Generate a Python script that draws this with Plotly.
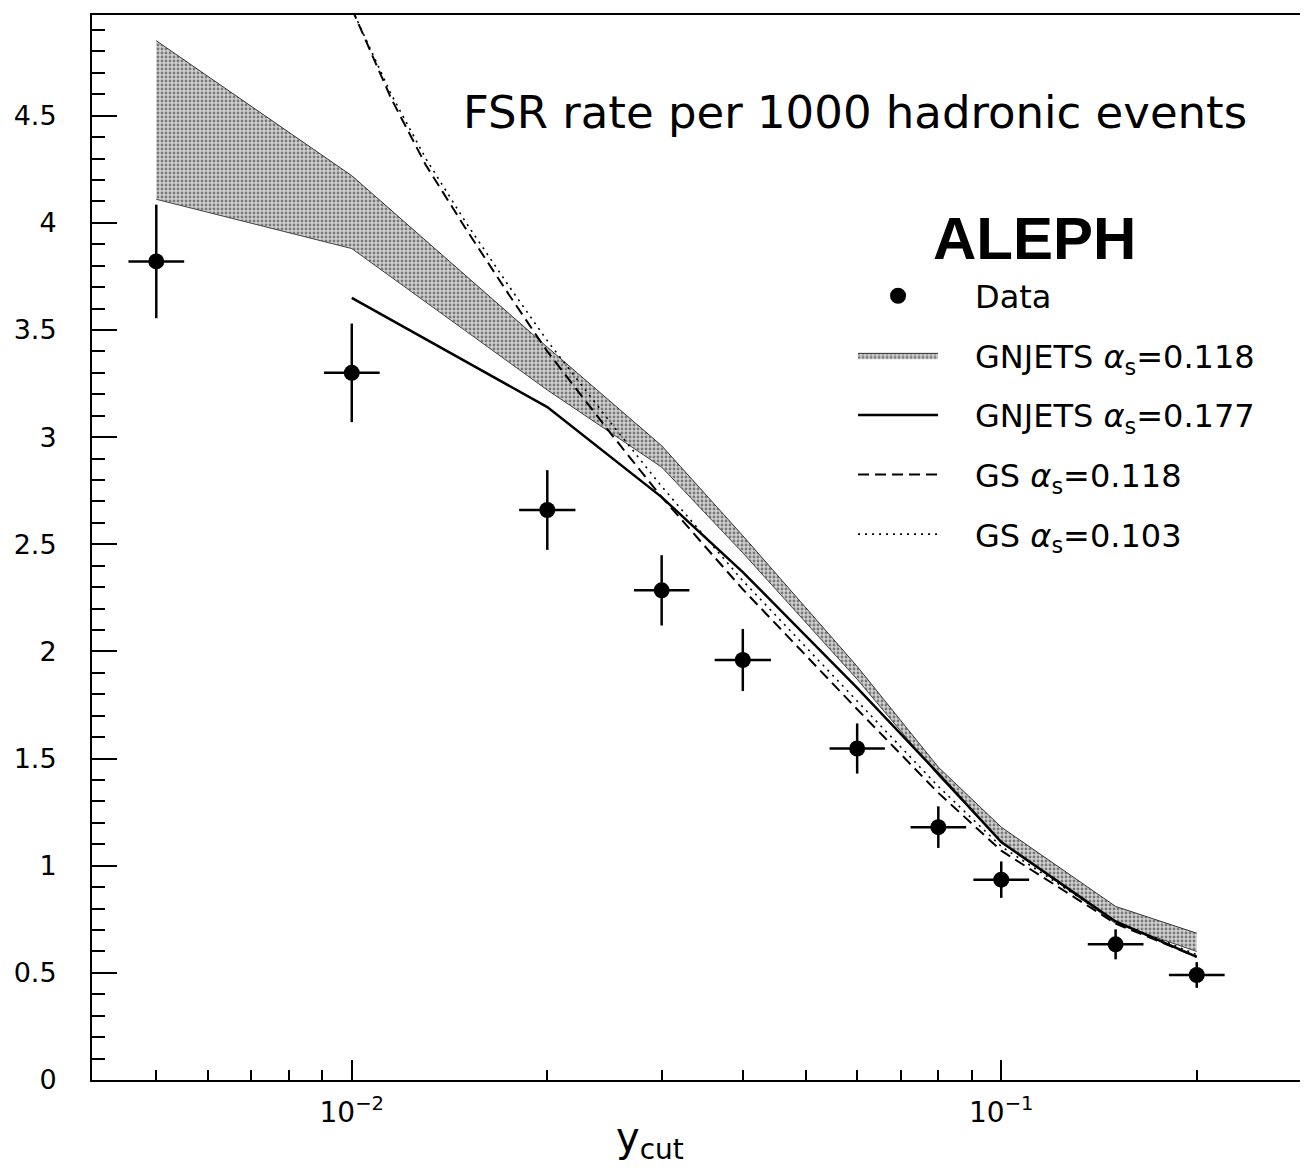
import plotly.graph_objects as go

# ---------------- data ----------------
ycut = [0.005, 0.01, 0.02, 0.03, 0.04, 0.06, 0.08, 0.1, 0.15, 0.2]
data_rate = [3.82, 3.30, 2.66, 2.285, 1.96, 1.547, 1.18, 0.935, 0.633, 0.49]
data_err = [0.265, 0.23, 0.186, 0.164, 0.145, 0.117, 0.097, 0.085, 0.07, 0.06]
xerr_plus = [0.00052, 0.00104, 0.0021, 0.0031, 0.0042, 0.0062, 0.0083, 0.0104, 0.0156, 0.0208]
xerr_minus = [0.00047, 0.00094, 0.0019, 0.0028, 0.0038, 0.0056, 0.0075, 0.0094, 0.0141, 0.0188]

gnj118_x = [0.005, 0.01, 0.02, 0.03, 0.04, 0.06, 0.08, 0.1, 0.15, 0.2]
gnj118_hi = [4.85, 4.22, 3.42, 2.96, 2.54, 1.93, 1.46, 1.18, 0.81, 0.685]
gnj118_lo = [4.11, 3.88, 3.22, 2.86, 2.46, 1.87, 1.42, 1.11, 0.73, 0.60]

gnj177_x = [0.01, 0.02, 0.03, 0.04, 0.06, 0.08, 0.1, 0.15, 0.2]
gnj177 = [3.65, 3.14, 2.72, 2.37, 1.83, 1.43, 1.11, 0.74, 0.575]

gs_x = [0.01, 0.0115, 0.013, 0.015, 0.0175, 0.02, 0.025, 0.03, 0.04, 0.05, 0.06, 0.08, 0.1, 0.15, 0.2]
gs118 = [5.0, 4.58, 4.27, 3.97, 3.66, 3.40, 3.02, 2.72, 2.29, 1.98, 1.73, 1.34, 1.07, 0.73, 0.575]
gs103 = [5.0, 4.60, 4.30, 4.00, 3.70, 3.45, 3.07, 2.77, 2.33, 2.02, 1.77, 1.37, 1.09, 0.74, 0.585]

x_major = [0.01, 0.1]
x_major_text = ["10<sup>−2</sup>", "10<sup>−1</sup>"]
x_minor = [0.005, 0.006, 0.007, 0.008, 0.009, 0.02, 0.03, 0.04, 0.05, 0.06, 0.07, 0.08, 0.09, 0.2]

FONT = "DejaVu Sans"
SP = "\u2003"

fig = go.Figure()

# band GNJETS 0.118
fig.add_trace(go.Scatter(
    x=gnj118_x, y=gnj118_lo, mode="lines",
    line=dict(color="#444444", width=1),
    showlegend=False, hoverinfo="skip", legendgroup="b"))
fig.add_trace(go.Scatter(
    x=gnj118_x, y=gnj118_hi, mode="lines", fill="tonexty",
    fillcolor="rgba(150,150,150,0.7)",
    fillpattern=dict(shape=".", fgcolor="#222222", bgcolor="#d0d0d0", size=4, solidity=0.4),
    line=dict(color="#333333", width=1),
    name=SP + "GNJETS <i>α</i><sub>s</sub>=0.118", legendrank=2, legendgroup="b"))

fig.add_trace(go.Scatter(
    x=gnj177_x, y=gnj177, mode="lines",
    line=dict(color="black", width=2.5),
    name=SP + "GNJETS <i>α</i><sub>s</sub>=0.177", legendrank=3, legendgroup="c"))

fig.add_trace(go.Scatter(
    x=gs_x, y=gs118, mode="lines",
    line=dict(color="black", width=2, dash="11px,6px"),
    name=SP + "GS <i>α</i><sub>s</sub>=0.118", legendrank=4, legendgroup="d"))

fig.add_trace(go.Scatter(
    x=gs_x, y=gs103, mode="lines",
    line=dict(color="black", width=1.6, dash="2px,5px"),
    name=SP + "GS <i>α</i><sub>s</sub>=0.103", legendrank=5, legendgroup="e"))

fig.add_trace(go.Scatter(
    x=ycut, y=data_rate, mode="markers",
    marker=dict(color="black", size=16, symbol="circle"),
    error_y=dict(type="data", array=data_err, color="black", thickness=2.5, width=0),
    error_x=dict(type="data", array=xerr_plus, arrayminus=xerr_minus, color="black", thickness=2.5, width=0),
    name=SP + "Data", legendrank=1, legendgroup="a"))

fig.add_annotation(text="FSR rate per 1000 hadronic events", xref="paper", yref="paper",
                   x=0.958, y=0.908, xanchor="right", yanchor="middle", showarrow=False,
                   font=dict(family=FONT, size=45, color="black"))
fig.add_annotation(text="<b>ALEPH</b>", xref="paper", yref="paper",
                   x=0.78, y=0.790, xanchor="center", yanchor="middle", showarrow=False,
                   font=dict(family="Liberation Sans", size=60, color="black"))
fig.add_annotation(text="y<sub>cut</sub>", xref="paper", yref="paper",
                   x=0.462, y=-0.056, xanchor="center", yanchor="middle", showarrow=False,
                   font=dict(family=FONT, size=40, color="black"))

fig.update_layout(
    width=1308, height=1168,
    margin=dict(l=92, r=8, t=15, b=88),
    paper_bgcolor="white", plot_bgcolor="white",
    font=dict(family=FONT, color="black"),
    showlegend=True,
    legend=dict(x=0.63, y=0.762, xanchor="left", yanchor="top",
                font=dict(family=FONT, size=32, color="black"),
                itemwidth=80, tracegroupgap=15, traceorder="grouped",
                bgcolor="rgba(0,0,0,0)"),
)

fig.update_xaxes(
    type="log", range=[-2.4, -0.54],
    showgrid=False, zeroline=False,
    showline=True, linecolor="black", linewidth=2, mirror=True,
    tickmode="array", tickvals=x_major, ticktext=x_major_text,
    ticks="inside", ticklen=20, tickwidth=1.5, tickcolor="black",
    tickfont=dict(family=FONT, size=28),
    ticklabelstandoff=6,
    minor=dict(tickvals=x_minor, ticks="inside", ticklen=10, tickwidth=1.5, tickcolor="black"),
)
fig.update_yaxes(
    range=[0, 4.97], dtick=0.5, tick0=0,
    showgrid=False, zeroline=False,
    showline=True, linecolor="black", linewidth=2, mirror=False,
    ticks="inside", ticklen=25, tickwidth=1.5, tickcolor="black",
    ticklabelstandoff=28,
    tickfont=dict(family=FONT, size=27),
    minor=dict(dtick=0.1, ticks="inside", ticklen=13, tickwidth=1.5, tickcolor="black"),
)

fig.write_html("out.html")
